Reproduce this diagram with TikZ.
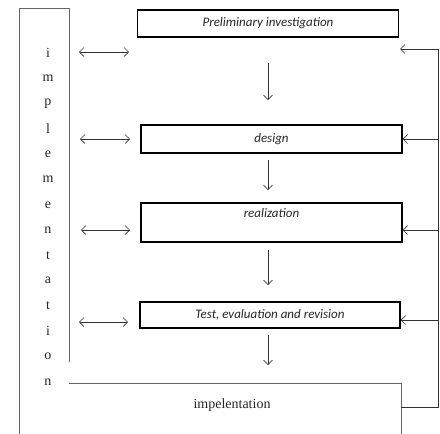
\documentclass[tikz,border=0pt]{standalone}
\usepackage{fontspec}
\setmainfont{Liberation Serif}
\newfontfamily\boxfont{Carlito}
\usetikzlibrary{arrows.meta}
\begin{document}
\begin{tikzpicture}[x=1pt,y=-1pt,
  boxtext/.style={text=black!85,font=\boxfont\itshape\fontsize{13}{14}\selectfont},
  stagebox/.style={draw=black,line width=1.3pt,inner sep=0pt,boxtext},
  thinline/.style={draw=black!60,line width=0.6pt},
  link/.style={draw=black!80,line width=0.6pt},
  tip/.style={-{Straight Barb[length=4.5pt,width=9pt]}},
  dtip/.style={{Straight Barb[length=4.5pt,width=9pt]}-{Straight Barb[length=4.5pt,width=9pt]}},
  letter/.style={text=black!85,font=\fontsize{14}{15}\selectfont,inner sep=0pt}]
\useasboundingbox (0,0) rectangle (440,434);
% stage boxes
\node[stagebox,minimum width=261pt,minimum height=27pt] (prelim) at (268,23.5) {Preliminary investigation};
\node[stagebox,minimum width=261pt,minimum height=28pt] (design) at (271.5,139) {design};
\node[stagebox,minimum width=261pt,minimum height=39pt,
  label={[anchor=north,yshift=-3pt,boxtext]north:realization}] (real) at (271.5,222.5) {};
\node[stagebox,minimum width=260pt,minimum height=26pt] (test) at (270,315) {Test, evaluation and revision};
% left implementation frame
\coordinate (lf1) at (69,362);
\coordinate (lf2) at (69,8);
\coordinate (lf3) at (19,8);
\coordinate (lf4) at (19,434);
\draw[thinline] (lf1) -- (lf2) -- (lf3) -- (lf4);
\foreach \ch [count=\i from 0] in {i,m,p,l,e,m,e,n,t,a,t,i,o,n}{
  \node[letter] (v\i) at (48,{53+25.3*\i}) {\ch};
}
% bottom implementation box
\coordinate (b1) at (69,383);
\coordinate (b2) at (401,383);
\coordinate (b3) at (401,434);
\draw[draw=black!60,line width=1pt] (b1) -- (b2);
\draw[thinline] (b2) -- (b3);
\node[letter] (impl) at (232,405) {impelentation};
% down arrows
\coordinate (d1a) at (268,63);  \coordinate (d1b) at (268,100);
\coordinate (d2a) at (268,160); \coordinate (d2b) at (268,190);
\coordinate (d3a) at (268,250); \coordinate (d3b) at (268,285);
\coordinate (d4a) at (268,335); \coordinate (d4b) at (268,365);
\draw[link,tip] (d1a) -- (d1b);
\draw[link,tip] (d2a) -- (d2b);
\draw[link,tip] (d3a) -- (d3b);
\draw[link,tip] (d4a) -- (d4b);
% left double arrows
\coordinate (h1a) at (79,52);  \coordinate (h1b) at (129,52);
\coordinate (h2a) at (80,139); \coordinate (h2b) at (130,139);
\coordinate (h3a) at (81,230); \coordinate (h3b) at (130,230);
\coordinate (h4a) at (79,322); \coordinate (h4b) at (128,322);
\draw[link,dtip] (h1a) -- (h1b);
\draw[link,dtip] (h2a) -- (h2b);
\draw[link,dtip] (h3a) -- (h3b);
\draw[link,dtip] (h4a) -- (h4b);
% feedback loop
\coordinate (fb0) at (401,407);
\coordinate (fb1) at (438,407);
\coordinate (fb2) at (438,49);
\coordinate (fb3) at (400,49);
\draw[link,tip] (fb0) -- (fb1) -- (fb2) -- (fb3);
\draw[link,tip] (438,139) -- (design.east);
\draw[link,tip] (438,230) -- (real.east |- 0,230);
\draw[link,tip] (438,320) -- (test.east |- 0,320);
\end{tikzpicture}
\end{document}
